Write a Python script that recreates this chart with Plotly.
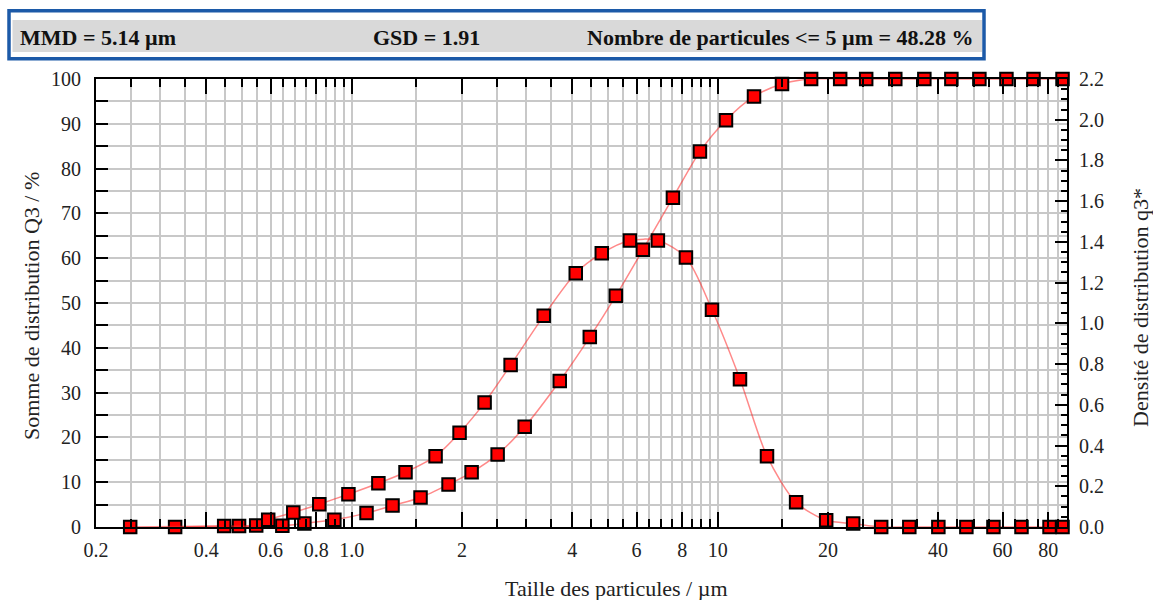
import numpy as np
import plotly.graph_objects as go

# ---------------- data ----------------
cum_size = [0.329, 0.492, 0.646, 0.742, 0.896, 1.097, 1.292, 1.541, 1.838, 2.125,
            2.503, 2.968, 3.700, 4.470, 5.266, 6.242, 7.542, 8.938, 10.53, 12.56,
            14.98, 17.99, 21.60, 25.44, 30.55, 36.68, 43.48, 51.86, 61.48, 72.90, 87.5]
cum_q3 = [0.0, 0.2, 0.3, 0.8, 1.6, 3.1, 4.8, 6.6, 9.5, 12.2,
          16.2, 22.4, 32.6, 42.4, 51.6, 61.9, 73.5, 83.8, 90.8, 96.1,
          98.9, 100, 100, 100, 100, 100, 100, 100, 100, 100, 100]

dens_size = [0.248, 0.448, 0.548, 0.591, 0.692, 0.815, 0.979, 1.182, 1.402, 1.694,
             1.970, 2.306, 2.716, 3.345, 4.092, 4.820, 5.752, 6.860, 8.184, 9.642,
             11.50, 13.63, 16.37, 19.78, 23.44, 27.96, 33.37, 40.06, 47.78, 56.66,
             67.59, 80.63, 87.5]
dens_q3 = [0.0, 0.005, 0.007, 0.035, 0.071, 0.112, 0.161, 0.215, 0.269, 0.348,
           0.463, 0.611, 0.795, 1.037, 1.246, 1.344, 1.407, 1.407, 1.323, 1.067,
           0.726, 0.348, 0.121, 0.033, 0.017, 0.0, 0.0, 0.0, 0.0, 0.0,
           0.0, 0.0, 0.0]

x_major = [0.2, 0.4, 0.6, 0.8, 1.0, 2, 4, 6, 8, 10, 20, 40, 60, 80]
x_major_labels = ["0.2", "0.4", "0.6", "0.8", "1.0", "2", "4", "6", "8", "10", "20", "40", "60", "80"]
x_minor = ([round(0.25 + 0.05 * i, 2) for i in range(16)] + [1.5]
           + [round(2.5 + 0.5 * i, 1) for i in range(16)]
           + [15 + 5 * i for i in range(16)])

header_texts = ["MMD = 5.14 µm", "GSD = 1.91", "Nombre de particules &lt;= 5 µm = 48.28 %"]
y_title = "Somme de distribution Q3 / %"
y2_title = "Densité de distribution q3*"
x_title = "Taille des particules / µm"

# ---------------- layout helpers ----------------
W, H = 1153, 600
L, R, T, B = 96, 1067, 79, 527
def px(xp):
    return (xp - L) / (R - L)
def py(yp):
    return (B - yp) / (B - T)

SERIF = "Liberation Serif"
line_col = "rgba(255,40,40,0.55)"
marker = dict(symbol="square", size=12.5, color="#ff0000",
              line=dict(color="black", width=2))

fig = go.Figure()
fig.add_trace(go.Scatter(x=dens_size, y=dens_q3, yaxis="y2", mode="lines+markers",
                         line=dict(color=line_col, width=1.5, shape="spline", smoothing=0.8),
                         marker=marker, cliponaxis=False, showlegend=False))
fig.add_trace(go.Scatter(x=cum_size, y=cum_q3, mode="lines+markers",
                         line=dict(color=line_col, width=1.5, shape="spline", smoothing=0.8),
                         marker=marker, cliponaxis=False, showlegend=False))

grid = "#c8c8c8"
tickfont = dict(family=SERIF, size=20, color="#222222")

fig.update_layout(
    width=W, height=H,
    margin=dict(l=L, r=W - R, t=T, b=H - B, pad=0),
    paper_bgcolor="white", plot_bgcolor="white",
    xaxis=dict(type="log", range=[np.log10(0.2), np.log10(90)],
               tickmode="array", tickvals=x_major, ticktext=x_major_labels,
               ticks="inside", ticklen=15, tickwidth=1.5, tickcolor="black",
               showgrid=True, gridcolor=grid, gridwidth=1.5,
               showline=True, linecolor="black", linewidth=2, mirror="ticks",
               zeroline=False, tickfont=tickfont, ticklabelstandoff=4,
               minor=dict(tickmode="array", tickvals=x_minor, ticks="inside",
                          ticklen=8, tickwidth=1.5, tickcolor="black",
                          showgrid=True, gridcolor=grid, gridwidth=1.5)),
    yaxis=dict(range=[0, 100], tickmode="linear", tick0=0, dtick=10,
               ticks="inside", ticklen=12, tickwidth=1.5, tickcolor="black",
               showgrid=True, gridcolor=grid, gridwidth=1.5,
               showline=True, linecolor="black", linewidth=2,
               zeroline=False, tickfont=tickfont, ticklabelstandoff=9,
               minor=dict(tick0=0, dtick=5, ticks="inside", ticklen=12,
                          tickwidth=1.5, tickcolor="black",
                          showgrid=True, gridcolor=grid, gridwidth=1.5)),
    yaxis2=dict(overlaying="y", side="right", range=[0, 2.2],
                tickmode="linear", tick0=0, dtick=0.2, tickformat=".1f",
                ticks="inside", ticklen=12, tickwidth=1.5, tickcolor="black",
                showgrid=False, showline=True, linecolor="black", linewidth=2,
                zeroline=False, tickfont=tickfont, ticklabelstandoff=6,
                minor=dict(tick0=0, dtick=0.05, ticks="inside", ticklen=6,
                           tickwidth=1.5, tickcolor="black", showgrid=False)),
)

# header box
fig.add_shape(type="rect", xref="paper", yref="paper",
              x0=px(12.5), x1=px(982), y0=py(52), y1=py(20),
              fillcolor="#d9d9d9", line=dict(width=0), layer="above")
fig.add_shape(type="rect", xref="paper", yref="paper",
              x0=px(9), x1=px(984), y0=py(58.8), y1=py(10.8),
              fillcolor="rgba(0,0,0,0)", line=dict(color="#1c5aa8", width=3.5), layer="above")

for txt, xp in zip(header_texts, [18, 371, 585]):
    fig.add_annotation(text="<b>" + txt + "</b>", xref="paper", yref="paper",
                       x=px(xp), y=py(37), xanchor="left", yanchor="middle",
                       showarrow=False, font=dict(family=SERIF, size=22, color="#111111"))

# axis titles
fig.add_annotation(text=y_title, xref="paper", yref="paper", x=px(31), y=py(306),
                   textangle=-90, showarrow=False, xanchor="center", yanchor="middle",
                   font=dict(family=SERIF, size=22, color="#222222"))
fig.add_annotation(text=y2_title, xref="paper", yref="paper", x=px(1140), y=py(308),
                   textangle=-90, showarrow=False, xanchor="center", yanchor="middle",
                   font=dict(family=SERIF, size=22, color="#222222"))
fig.add_annotation(text=x_title, xref="paper", yref="paper", x=px(616), y=py(588),
                   showarrow=False, xanchor="center", yanchor="middle",
                   font=dict(family=SERIF, size=22, color="#222222"))

fig.write_html("out.html", config={"displayModeBar": False},
               post_script="document.body.style.margin='0px';document.body.style.overflow='hidden';")
